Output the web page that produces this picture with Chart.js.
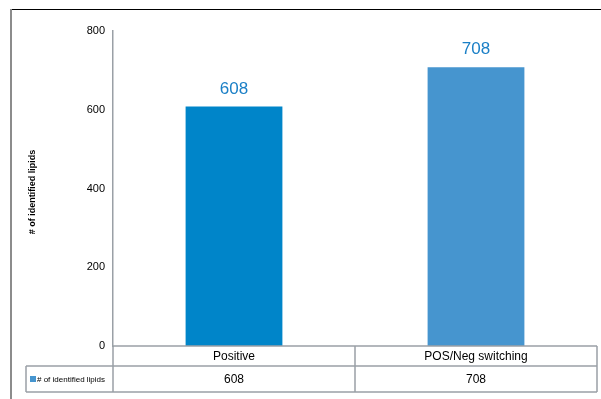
<!DOCTYPE html>
<html>
<head>
<meta charset="utf-8">
<script src="https://cdn.jsdelivr.net/npm/chart.js@4.4.1/dist/chart.umd.min.js"></script>
<style>
  html, body { margin: 0; padding: 0; background: #fff; }
  #wrap { width: 601px; height: 399px; position: relative; }
</style>
</head>
<body>
<div id="wrap"><canvas id="chart" width="601" height="399"></canvas></div>
<script>
const categories = ["Positive", "POS/Neg switching"];
const lipidCounts = [608, 708];
const yTicks = [0, 200, 400, 600, 800];
const seriesName = "# of identified lipids";
const barColors = ["#0085c9", "#4695cf"];

const FONT = "'Liberation Sans', Arial, sans-serif";

// frame, y-title, value labels and the data table under the axis
const extrasPlugin = {
  id: 'extras',
  afterDraw(chart) {
    const ctx = chart.ctx;
    const x = chart.scales.x;
    const area = chart.chartArea;
    ctx.save();

    // outer frame
    ctx.strokeStyle = '#000';
    ctx.lineWidth = 1;
    ctx.beginPath();
    ctx.moveTo(11, 9.5); ctx.lineTo(601, 9.5);
    ctx.stroke();
    ctx.strokeStyle = '#8c8c8c';
    ctx.lineWidth = 2;
    ctx.beginPath();
    ctx.moveTo(11, 9); ctx.lineTo(11, 399);
    ctx.stroke();

    // y title
    ctx.fillStyle = '#000';
    ctx.font = "bold 9px " + FONT;
    ctx.textAlign = 'center';
    ctx.textBaseline = 'middle';
    ctx.translate(33, 192);
    ctx.rotate(-Math.PI / 2);
    ctx.fillText(seriesName, 0, 0);
    ctx.setTransform(1, 0, 0, 1, 0, 0);

    // value labels
    const meta = chart.getDatasetMeta(0);
    ctx.font = "17px " + FONT;
    ctx.fillStyle = '#1a7fc6';
    ctx.textBaseline = 'alphabetic';
    meta.data.forEach((bar, i) => {
      ctx.fillText(String(lipidCounts[i]), bar.x, bar.y - 13);
    });

    // data table
    const top = area.bottom, mid = top + 20, bot = top + 46;
    const left = area.left, right = area.right, outerLeft = 26;
    const step = (right - left) / categories.length;
    ctx.strokeStyle = '#9aa0a6';
    ctx.lineWidth = 1.5;
    ctx.beginPath();
    ctx.moveTo(left, top); ctx.lineTo(right, top);
    ctx.moveTo(outerLeft, mid); ctx.lineTo(right, mid);
    ctx.moveTo(outerLeft, bot); ctx.lineTo(right, bot);
    ctx.moveTo(outerLeft, mid); ctx.lineTo(outerLeft, bot);
    for (let i = 0; i <= categories.length; i++) {
      const cx = left + step * i;
      ctx.moveTo(cx, top); ctx.lineTo(cx, bot);
    }
    ctx.stroke();

    ctx.fillStyle = '#000';
    ctx.font = "12px " + FONT;
    ctx.textBaseline = 'middle';
    categories.forEach((c, i) => {
      const cx = x.getPixelForValue(i);
      ctx.fillText(c, cx, (top + mid) / 2 + 1);
      ctx.fillText(String(lipidCounts[i]), cx, (mid + bot) / 2 + 1);
    });

    // legend key in table
    ctx.fillStyle = barColors[1];
    ctx.fillRect(30, (mid + bot) / 2 - 3, 6, 6);
    ctx.fillStyle = '#000';
    ctx.font = "8px " + FONT;
    ctx.textAlign = 'left';
    ctx.fillText(seriesName, 37, (mid + bot) / 2 + 1);

    ctx.restore();
  }
};

new Chart(document.getElementById('chart').getContext('2d'), {
  type: 'bar',
  data: {
    labels: categories,
    datasets: [{
      label: seriesName,
      data: lipidCounts,
      backgroundColor: barColors,
      borderWidth: 0,
      categoryPercentage: 0.8,
      barPercentage: 0.5
    }]
  },
  options: {
    responsive: false,
    animation: false,
    layout: { padding: { left: 11, right: 4, top: 31, bottom: 53 } },
    plugins: { legend: { display: false }, tooltip: { enabled: false } },
    scales: {
      x: { display: false },
      y: {
        min: 0,
        max: 800,
        afterFit(scale) { scale.width = 102; },
        afterBuildTicks(scale) { scale.ticks = yTicks.map(v => ({ value: v })); },
        grid: { display: false, drawTicks: false },
        border: { display: true, color: '#9aa0a6', width: 1.5 },
        ticks: { color: '#000', font: { size: 11, family: FONT }, padding: 8 }
      }
    }
  },
  plugins: [extrasPlugin]
});
</script>
</body>
</html>
